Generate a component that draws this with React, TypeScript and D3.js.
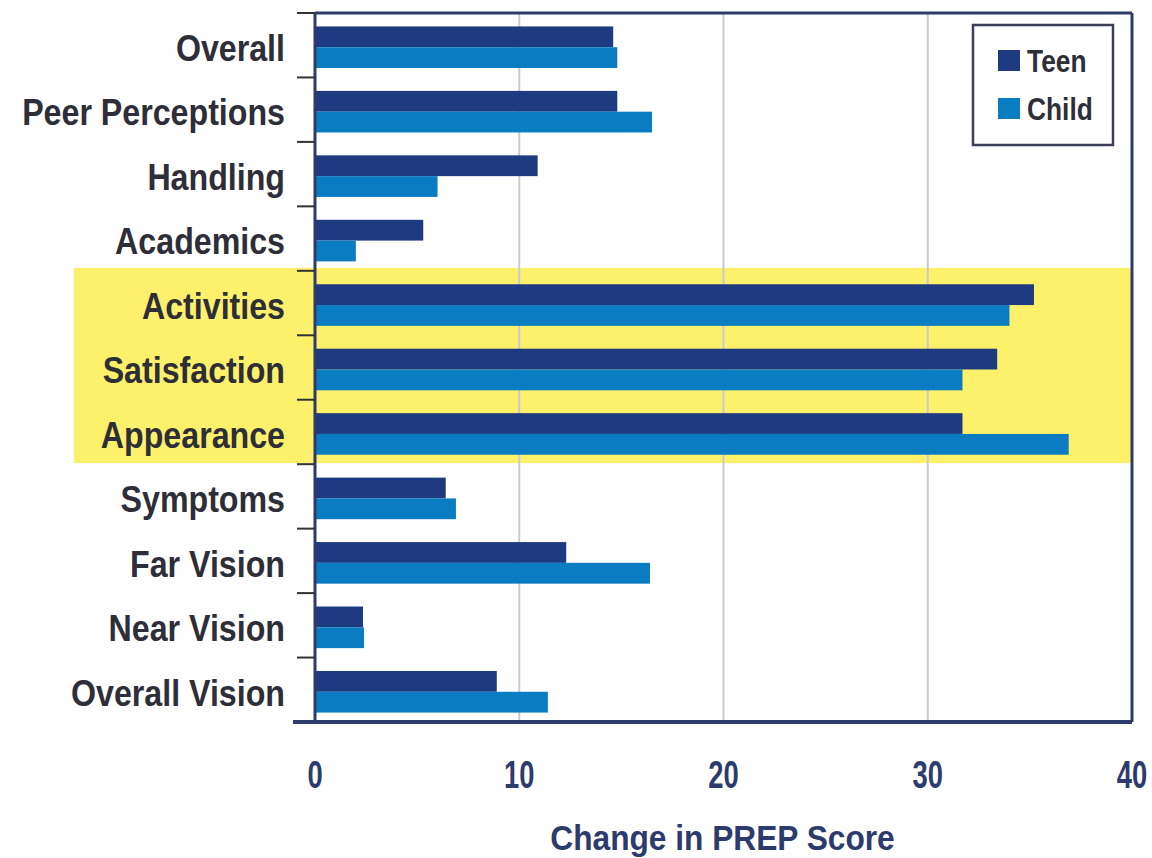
import React from "react";
import * as d3 from "d3";

const categories = [
  "Overall",
  "Peer Perceptions",
  "Handling",
  "Academics",
  "Activities",
  "Satisfaction",
  "Appearance",
  "Symptoms",
  "Far Vision",
  "Near Vision",
  "Overall Vision",
];
const teenValues = [14.6, 14.8, 10.9, 5.3, 35.2, 33.4, 31.7, 6.4, 12.3, 2.35, 8.9];
const childValues = [14.8, 16.5, 6.0, 2.0, 34.0, 31.7, 36.9, 6.9, 16.4, 2.4, 11.4];
const highlighted = ["Activities", "Satisfaction", "Appearance"];
const xTicks = [0, 10, 20, 30, 40];
const seriesNames = ["Teen", "Child"];
const seriesColors = ["#1e3a80", "#0a7cc2"];
const xTitle = "Change in PREP Score";

const W = 1152;
const H = 858;
const M = { left: 315, right: 1132, top: 13, bottom: 722 };

export default function App() {
  const x = d3.scaleLinear().domain([0, 40]).range([M.left, M.right]);
  const y = d3
    .scaleBand<string>()
    .domain(categories)
    .range([M.top + 2, M.bottom + 2]);
  const inner = d3
    .scaleBand<string>()
    .domain(seriesNames)
    .range([0, y.bandwidth()])
    .paddingOuter(0.55)
    .paddingInner(0);

  const hiTop = y(highlighted[0])! - 5;
  const hiBot = y(highlighted[highlighted.length - 1])! + y.bandwidth() - 3;

  const labelFont = "'Liberation Sans', Arial, sans-serif";
  const navy = "#2c3b6c";

  return (
    <svg
      width={W}
      height={H}
      style={{ position: "absolute", left: 0, top: 0, background: "#fff" }}
    >
      {/* highlight band */}
      <rect x={74} y={hiTop} width={M.right - 74} height={hiBot - hiTop} fill="#fdf16c" />

      {/* grid lines */}
      {xTicks.slice(1, -1).map((t) => (
        <line key={t} x1={x(t)} x2={x(t)} y1={M.top} y2={M.bottom} stroke="#c9c9cf" strokeWidth={2} />
      ))}

      {/* bars */}
      {categories.map((c, i) => (
        <g key={c} transform={`translate(0,${y(c)})`}>
          {[teenValues[i], childValues[i]].map((v, j) => (
            <rect
              key={j}
              x={x(0)}
              y={inner(seriesNames[j])!}
              width={x(v) - x(0)}
              height={inner.bandwidth()}
              fill={seriesColors[j]}
            />
          ))}
        </g>
      ))}

      {/* frame */}
      <line x1={M.left} x2={M.right} y1={M.top} y2={M.top} stroke={navy} strokeWidth={3} />
      <line x1={M.right} x2={M.right} y1={M.top} y2={M.bottom} stroke={navy} strokeWidth={3} />
      <line x1={M.left} x2={M.left} y1={M.top} y2={M.bottom} stroke={navy} strokeWidth={3} />
      <line x1={M.left - 22} x2={M.right} y1={M.bottom} y2={M.bottom} stroke={navy} strokeWidth={4} />

      {/* category ticks */}
      {categories.map((c) => (
        <line
          key={c}
          x1={M.left - 18}
          x2={M.left}
          y1={y(c)! - 2}
          y2={y(c)! - 2}
          stroke="#333"
          strokeWidth={2}
        />
      ))}

      {/* category labels */}
      {categories.map((c) => (
        <text
          key={c}
          transform={`translate(285,${y(c)! + y.bandwidth() / 2 + 1}) scale(0.87,1)`}
          textAnchor="end"
          dominantBaseline="central"
          fontFamily={labelFont}
          fontWeight="bold"
          fontSize={37}
          fill="#2e2e38"
        >
          {c}
        </text>
      ))}

      {/* x tick labels */}
      {xTicks.map((t) => (
        <text
          key={t}
          transform={`translate(${x(t)},775) scale(0.72,1)`}
          textAnchor="middle"
          dominantBaseline="central"
          fontFamily={labelFont}
          fontWeight="bold"
          fontSize={38}
          fill={navy}
        >
          {t}
        </text>
      ))}

      {/* x title */}
      <text
        transform={`translate(${(M.left + M.right) / 2 - 1},837) scale(0.88,1)`}
        textAnchor="middle"
        dominantBaseline="central"
        fontFamily={labelFont}
        fontWeight="bold"
        fontSize={36}
        fill={navy}
      >
        {xTitle}
      </text>

      {/* legend */}
      <rect x={973} y={25} width={140} height={120} fill="#fff" stroke="#3a3f55" strokeWidth={2.5} />
      {seriesNames.map((s, j) => (
        <g key={s} transform={`translate(998,${50 + j * 48})`}>
          <rect x={0} y={0} width={22} height={21} fill={seriesColors[j]} />
          <text
            transform={`translate(29,11) scale(0.85,1)`}
            dominantBaseline="central"
            fontFamily={labelFont}
            fontWeight="bold"
            fontSize={31}
            fill="#2e2e38"
          >
            {s}
          </text>
        </g>
      ))}
    </svg>
  );
}
